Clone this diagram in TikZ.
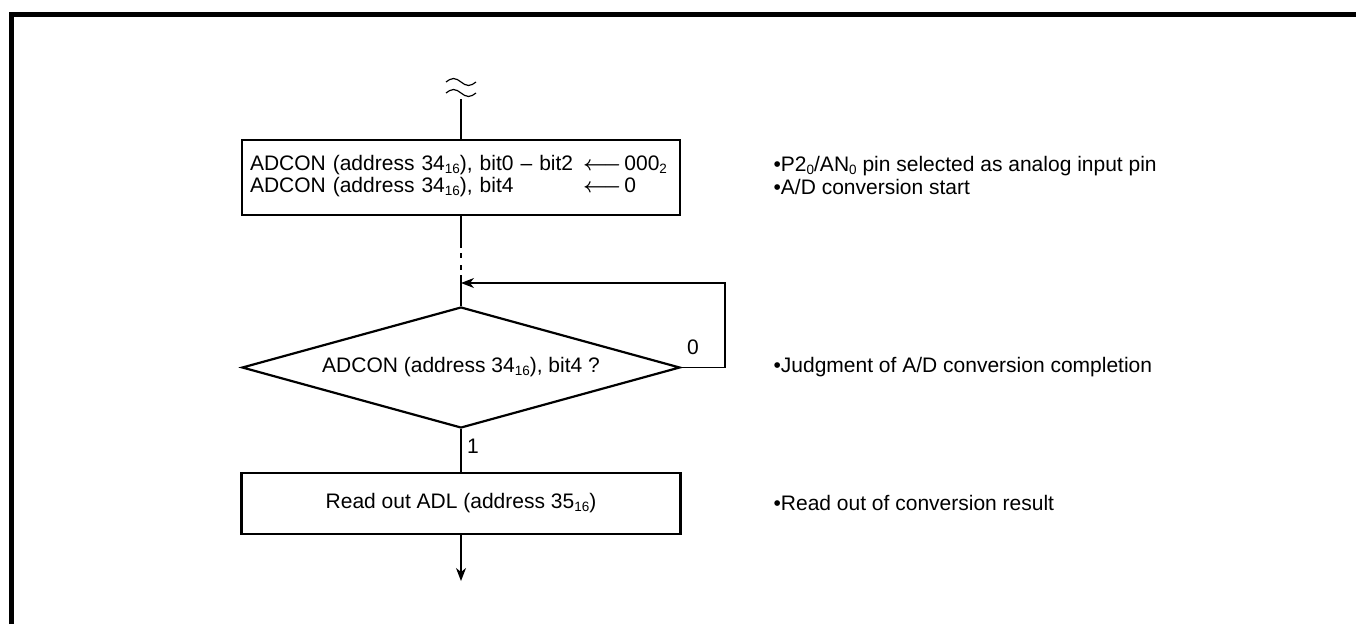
\documentclass[tikz,border=0pt]{standalone}
\usepackage{fontspec}
\setmainfont{Liberation Sans}
\usepackage{tikz}
\usetikzlibrary{shapes.geometric}
\usetikzlibrary{arrows.meta}
\newcommand{\lowsub}[1]{\raisebox{-0.25ex}{\fontsize{13.5}{14}\selectfont #1}}
\newcommand{\getsarrow}{{\boldmath$\longleftarrow$}\hspace{3pt}}

\begin{document}
\begin{tikzpicture}[x=1pt,y=-1pt,line width=1.2pt,
    every node/.style={font=\fontsize{21}{22}\selectfont},
    procbox/.style={draw, line width=2.2pt, inner sep=0pt},
    decision/.style={diamond, draw, line width=2.2pt, inner sep=0pt, aspect=3.6},
    arr/.style={-{Stealth[length=13pt,width=10pt,inset=4pt]}},
    note/.style={anchor=west, inner sep=0pt}]
    \useasboundingbox (0,0) rectangle (1356,624);
    % frame
    \draw[line width=5pt] (11.5,624) -- (11.5,14.5) -- (1356,14.5);
    % break mark at the entry
    \draw (446,82) sin (453.5,78.5) cos (461,82) sin (468.5,85.5) cos (476,82);
    \draw (446,93) sin (453.5,89.5) cos (461,93) sin (468.5,96.5) cos (476,93);
    \coordinate (entry) at (461,99);
    \node[procbox, minimum width=438, minimum height=75, text width=422pt, inner xsep=8pt] (topbox) at (461,177.5)
        {\begin{tabular}{@{}p{333pt}@{}l@{}}
        ADCON (address 34\lowsub{16}), bit0 -- bit2 & \getsarrow 000\lowsub{2}\\
        ADCON (address 34\lowsub{16}), bit4 & \getsarrow 0
        \end{tabular}};
    \node[decision, minimum width=438, minimum height=121] (judge) at (461,367.5)
        {ADCON (address 34\lowsub{16}), bit4 ?};
    \node[procbox, minimum width=439, minimum height=61] (readbox) at (461,503.5)
        {Read out ADL (address 35\lowsub{16})};
    \coordinate (gapA) at (461,248);
    \coordinate (gapB) at (461,253);
    \coordinate (gapC) at (461,270);
    \coordinate (gapD) at (461,275);
    \coordinate (merge) at (461,283);
    \coordinate (loopc) at (725,283);
    \coordinate (exit) at (461,581);
    % connectors
    \draw (entry) -- (topbox.north);
    \draw (topbox.south) -- (gapA);
    \draw[dash pattern=on 5pt off 7pt] (gapB) -- (gapC);
    \draw (gapD) -- (judge.north);
    \draw[arr] (judge.east) -| (loopc) -- (merge);
    \draw (judge.south) -- (readbox.north);
    \draw[arr] (readbox.south) -- (exit);
    \node (zero) at (693,347) {0};
    \node (one) at (473,446) {1};
    % notes
    \node[note] (noteA) at (773,166) {•P2\lowsub{0}/AN\lowsub{0} pin selected as analog input pin};
    \node[note] (noteB) at (773,187) {•A/D conversion start};
    \node[note] (noteC) at (773,367.5) {•Judgment of A/D conversion completion};
    \node[note] (noteD) at (773,503) {•Read out of conversion result};
\end{tikzpicture}
\end{document}
